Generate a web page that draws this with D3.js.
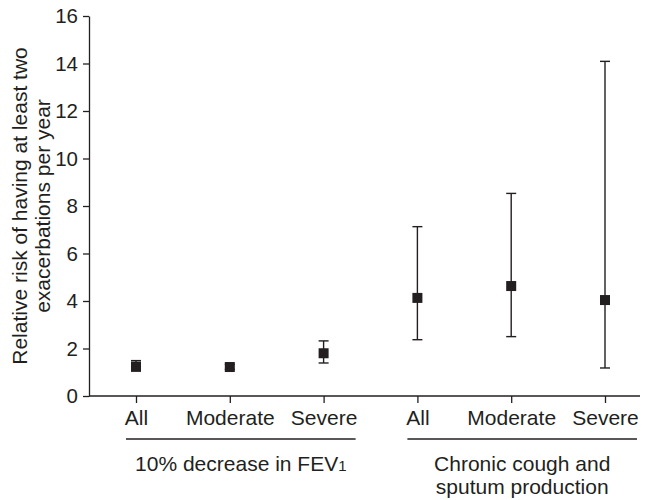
<!DOCTYPE html>
<html>
<head>
<meta charset="utf-8">
<script src="https://cdn.jsdelivr.net/npm/d3@7"></script>
<style>
  body { margin: 0; background: #fff; }
  text { font-family: "Liberation Sans", Arial, sans-serif; fill: #231f20; }
</style>
</head>
<body>
<div id="canvas"></div>
<script>
// categories and values
const categories = ["All", "Moderate", "Severe", "All", "Moderate", "Severe"];
const rr = [1.24, 1.22, 1.80, 4.13, 4.63, 4.04];
const lower = [1.05, 1.12, 1.39, 2.37, 2.50, 1.18];
const upper = [1.49, 1.33, 2.32, 7.13, 8.53, 14.09];
const yTicks = [0, 2, 4, 6, 8, 10, 12, 14, 16];
const groupNames = [["10% decrease in FEV", "1"], ["Chronic cough and", "sputum production"]];
const groupMembers = [[0, 2], [3, 5]];

const width = 647;
const height = 500;
const ink = "#231f20";

const svg = d3.select("#canvas").append("svg")
  .attr("width", width)
  .attr("height", height);

const y = d3.scaleLinear().domain([0, 16]).range([396, 16]);
const x = d3.scalePoint().domain(d3.range(categories.length)).range([136, 605]);

const axisLeftX = 89;

// y axis
const yAxis = svg.append("g")
  .attr("transform", `translate(${axisLeftX},0)`)
  .call(d3.axisLeft(y).tickValues(yTicks).tickSize(6).tickSizeOuter(0));
yAxis.select(".domain").attr("stroke", ink).attr("stroke-width", 1.3);
yAxis.selectAll(".tick line").attr("stroke", ink).attr("stroke-width", 1.3);
yAxis.selectAll(".tick text")
  .attr("x", -11)
  .style("font-size", "20.5px")
  .style("font-family", "'Liberation Sans', Arial, sans-serif")
  .attr("fill", ink);

// x axis
const xAxis = svg.append("g")
  .attr("transform", `translate(0,${y(0)})`)
  .call(d3.axisBottom(x).tickSize(7).tickSizeOuter(0).tickFormat(i => categories[i]));
xAxis.select(".domain").remove();
xAxis.append("line")
  .attr("x1", axisLeftX).attr("x2", 640)
  .attr("stroke", ink).attr("stroke-width", 1.3);
xAxis.selectAll(".tick line").attr("stroke", ink).attr("stroke-width", 1.3);
xAxis.selectAll(".tick text")
  .attr("y", 14)
  .style("font-size", "21px")
  .style("font-family", "'Liberation Sans', Arial, sans-serif")
  .attr("fill", ink);

// error bars
const idx = d3.range(categories.length);
const capW = 10;
const bars = svg.append("g");
bars.selectAll("line.ci").data(idx).enter().append("line")
  .attr("class", "ci")
  .attr("x1", i => x(i)).attr("x2", i => x(i))
  .attr("y1", i => y(lower[i])).attr("y2", i => y(upper[i]))
  .attr("stroke", ink).attr("stroke-width", 1.4);
bars.selectAll("line.capTop").data(idx).enter().append("line")
  .attr("class", "capTop")
  .attr("x1", i => x(i) - capW / 2).attr("x2", i => x(i) + capW / 2)
  .attr("y1", i => y(upper[i])).attr("y2", i => y(upper[i]))
  .attr("stroke", ink).attr("stroke-width", 1.4);
bars.selectAll("line.capBot").data(idx).enter().append("line")
  .attr("class", "capBot")
  .attr("x1", i => x(i) - capW / 2).attr("x2", i => x(i) + capW / 2)
  .attr("y1", i => y(lower[i])).attr("y2", i => y(lower[i]))
  .attr("stroke", ink).attr("stroke-width", 1.4);

const sq = 10;
bars.selectAll("rect").data(idx).enter().append("rect")
  .attr("x", i => x(i) - sq / 2)
  .attr("y", i => y(rr[i]) - sq / 2)
  .attr("width", sq).attr("height", sq)
  .attr("fill", ink);

// group brackets and labels
const groups = svg.append("g");
groupMembers.forEach((m, gi) => {
  const x1 = x(m[0]) - 10;
  const x2 = x(m[1]) + 32;
  groups.append("line")
    .attr("x1", x1).attr("x2", x2)
    .attr("y1", 439).attr("y2", 439)
    .attr("stroke", ink).attr("stroke-width", 1.3);
  const cx = (x1 + x2) / 2;
  if (gi === 0) {
    const t = groups.append("text")
      .attr("x", cx).attr("y", 471)
      .attr("text-anchor", "middle")
      .style("font-size", "21px");
    t.append("tspan").text(groupNames[gi][0]);
    t.append("tspan").style("font-size", "15px").text(groupNames[gi][1]);
  } else {
    groupNames[gi].forEach((line, li) => {
      groups.append("text")
        .attr("x", cx).attr("y", 471 + li * 23)
        .attr("text-anchor", "middle")
        .style("font-size", "21px")
        .text(line);
    });
  }
});

// y axis title
const yTitle = ["Relative risk of having at least two", "exacerbations per year"];
yTitle.forEach((line, li) => {
  svg.append("text")
    .attr("transform", `translate(${27 + li * 23},206) rotate(-90)`)
    .attr("text-anchor", "middle")
    .style("font-size", "21px")
    .text(line);
});
</script>
</body>
</html>
